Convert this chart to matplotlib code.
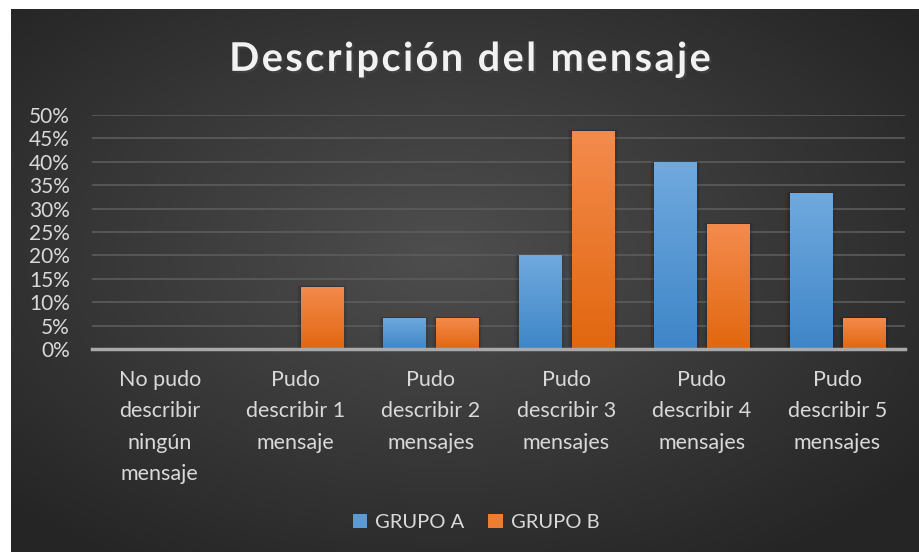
import numpy as np
import matplotlib.pyplot as plt
import matplotlib.patheffects as pe
from matplotlib.colors import LinearSegmentedColormap
from matplotlib.patches import Patch

# datos (porcentaje de participantes, n=15)
categorias = ['No pudo\ndescribir\nningún\nmensaje',
              'Pudo\ndescribir 1\nmensaje',
              'Pudo\ndescribir 2\nmensajes',
              'Pudo\ndescribir 3\nmensajes',
              'Pudo\ndescribir 4\nmensajes',
              'Pudo\ndescribir 5\nmensajes']
grupo_a = [0, 0, 6.67, 20.0, 40.0, 33.33]
grupo_b = [0, 13.33, 6.67, 46.67, 26.67, 6.67]
ticks_y = [0, 5, 10, 15, 20, 25, 30, 35, 40, 45, 50]
series = ['GRUPO A', 'GRUPO B']
titulo = 'Descripción del mensaje'

plt.rcParams['font.family'] = ['Lato', 'DejaVu Sans']
texto = '#d9d9d9'

fig = plt.figure(figsize=(9.19, 5.52), dpi=100)
fig.patch.set_facecolor('white')

# fondo con degradado radial
bg = fig.add_axes([11/919, 0, 908/919, 543/552])
yy, xx = np.mgrid[-1:1:300j, -1:1:500j]
r = np.clip(np.sqrt((xx + 0.05)**2 + (yy + 0.1)**2) / 1.35, 0, 1)
fondo = LinearSegmentedColormap.from_list('fondo', ['#4e4e4e', '#252525'])
bg.imshow(fondo(r), aspect='auto', extent=[0, 1, 0, 1])
bg.set_axis_off()

ax = fig.add_axes([92/919, 203/552, 813/919, 234/552])
ax.set_facecolor('none')
x = np.arange(len(categorias))
ancho = 0.31
desp = 0.197

azul = LinearSegmentedColormap.from_list('azul', ['#3f86c8', '#70a9de'])
naranja = LinearSegmentedColormap.from_list('naranja', ['#e1670f', '#f48b4d'])
grad = np.linspace(0, 1, 100).reshape(-1, 1)

for valores, cmap, dx in [(grupo_a, azul, -desp), (grupo_b, naranja, desp)]:
    barras = ax.bar(x + dx, valores, ancho, color='none', zorder=3)
    for b, v in zip(barras, valores):
        if v <= 0:
            continue
        x0 = b.get_x()
        # sombra suave
        for k, a in [(0.01, 0.10), (0.02, 0.07), (0.03, 0.04)]:
            ax.add_patch(plt.Rectangle((x0 - k, 0), ancho + 2 * k, v + k * 8,
                                       color='black', alpha=a, lw=0, zorder=2))
        im = ax.imshow(grad, cmap=cmap, origin='lower', aspect='auto',
                       extent=[x0, x0 + ancho, 0, v], zorder=3)
        im.set_clip_path(b)

ax.set_xlim(-0.5, len(categorias) - 0.5)
ax.set_ylim(0, 50)
ax.set_yticks(ticks_y)
ax.set_yticklabels([f'{t}%' for t in ticks_y])
ax.yaxis.grid(True, color='#5c5c5c', lw=1.2, zorder=0)
ax.set_axisbelow(True)
ax.axhline(0, color='#a9a9a9', lw=2.5, zorder=4, clip_on=False)
ax.set_xticks(x)
ax.set_xticklabels(categorias, linespacing=1.72, va='top')
ax.tick_params(axis='y', length=0, pad=16, labelsize=15, labelcolor=texto)
ax.tick_params(axis='x', length=0, pad=15, labelsize=15.5, labelcolor=texto)
for s in ax.spines.values():
    s.set_visible(False)

# titulo con espaciado entre letras
fig.text(0.512, 0.892, '\u200a'.join(titulo), ha='center', va='center',
         fontsize=28.5, fontweight='bold', color='#f2f2f2',
         path_effects=[pe.withSimplePatchShadow(offset=(1.5, -1.5), alpha=0.6)])

handles = [Patch(facecolor='#5b9bd5'), Patch(facecolor='#ed7d31')]
fig.legend(handles, series, loc='center', bbox_to_anchor=(0.518, 0.054), ncol=2,
           frameon=False, fontsize=14.5, labelcolor=texto, handlelength=0.7,
           handleheight=0.7, handletextpad=0.4, columnspacing=1.2)

fig.savefig('out.png', dpi=100)
